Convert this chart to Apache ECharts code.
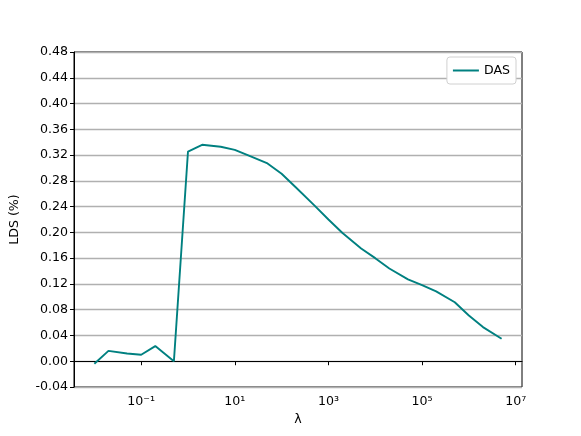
<!DOCTYPE html>
<html>
<head>
<meta charset="utf-8">
<script src="https://cdn.jsdelivr.net/npm/echarts@6/dist/echarts.min.js"></script>
<style>
  html, body { margin: 0; padding: 0; background: #fff; }
  #chart { width: 581px; height: 436px; }
</style>
</head>
<body>
<div id="chart"></div>
<script>
// lambda values (x, log scale) and LDS values
const lambdas = [0.01, 0.02, 0.05, 0.1, 0.2, 0.5, 1, 2, 5, 10, 20, 50, 100, 200, 500,
  1e3, 2e3, 5e3, 1e4, 2e4, 5e4, 1e5, 2e5, 5e5, 1e6, 2e6, 5e6];
const ldsDAS = [-0.004, 0.016, 0.012, 0.010, 0.0235, 0.000, 0.3255, 0.336, 0.333, 0.328,
  0.319, 0.307, 0.291, 0.270, 0.242, 0.220, 0.199, 0.175, 0.160, 0.144, 0.127,
  0.118, 0.1085, 0.0915, 0.071, 0.053, 0.035];
const xTicks = [0.1, 10, 1000, 1e5, 1e7];
const xTickLabels = ['10⁻¹', '10¹', '10³', '10⁵', '10⁷'];

const chart = echarts.init(document.getElementById('chart'));
const font = 'DejaVu Sans';

chart.setOption({
  animation: false,
  textStyle: { fontFamily: font },
  grid: {
    left: 73, right: 59, top: 52, bottom: 49,
    show: true, borderColor: '#000', borderWidth: 1, backgroundColor: 'transparent'
  },
  legend: {
    data: [{ name: 'DAS', icon: 'rect' }],
    right: 65, top: 57,
    itemWidth: 26, itemHeight: 2,
    padding: [7, 6],
    borderColor: '#d0d0d0', borderWidth: 1, borderRadius: 3,
    backgroundColor: '#fff',
    textStyle: { fontFamily: font, fontSize: 12.6, color: '#000' }
  },
  xAxis: {
    type: 'log',
    logBase: 10,
    min: Math.pow(10, -2.435),
    max: Math.pow(10, 7.135),
    name: 'λ',
    nameLocation: 'middle',
    nameGap: 26,
    nameTextStyle: { fontFamily: font, fontSize: 12.6, color: '#000' },
    axisLine: { show: true, lineStyle: { color: '#000', width: 1 } },
    axisTick: { show: true, inside: false, length: 4, customValues: xTicks, lineStyle: { color: '#000' } },
    axisLabel: {
      customValues: xTicks,
      fontFamily: font, fontSize: 12.6, color: '#000', margin: 8,
      formatter: v => {
        const i = xTicks.findIndex(t => Math.abs(Math.log10(t) - Math.log10(v)) < 1e-6);
        return i >= 0 ? xTickLabels[i] : '';
      }
    },
    splitLine: { show: false },
    minorTick: { show: false }
  },
  yAxis: {
    type: 'value',
    min: -0.04, max: 0.48, interval: 0.04,
    name: 'LDS (%)',
    nameLocation: 'middle',
    nameGap: 53,
    nameTextStyle: { fontFamily: font, fontSize: 12.6, color: '#000' },
    axisLine: { show: true, lineStyle: { color: '#000', width: 1 } },
    axisTick: { show: true, inside: false, length: 4, lineStyle: { color: '#000' } },
    axisLabel: {
      fontFamily: font, fontSize: 12.6, color: '#000', margin: 6,
      formatter: v => v.toFixed(2)
    },
    splitLine: { show: true, lineStyle: { color: '#b0b0b0', width: 1.3 } }
  },
  series: [{
    name: 'DAS',
    type: 'line',
    data: lambdas.map((x, i) => [x, ldsDAS[i]]),
    showSymbol: false,
    symbol: 'none',
    color: '#008080',
    lineStyle: { color: '#008080', width: 1.9 }
  }]
});
</script>
</body>
</html>
